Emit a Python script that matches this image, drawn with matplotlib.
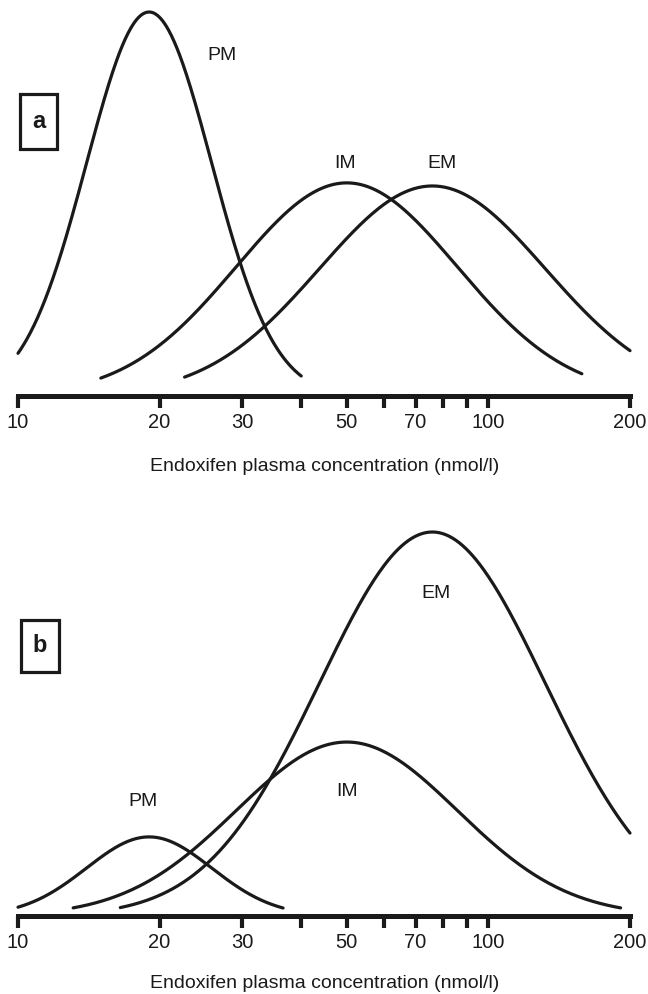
import numpy as np
import matplotlib
matplotlib.use("Agg")
import matplotlib.pyplot as plt
from matplotlib.patches import Rectangle

plt.rcParams['font.family'] = ['Liberation Sans', 'DejaVu Sans']

# ---- data ----
groups = ["PM", "IM", "EM"]
# mode (nmol/l), log10 spread, relative height, drawn range (nmol/l)
modes = [19.0, 50.0, 76.0]
log_sd = [0.133, 0.235, 0.24]
heights_a = [1.00, 0.555, 0.547]
heights_b = [0.206, 0.453, 1.00]
range_a = [(10.0, 40.0), (15.0, 158.0), (22.6, 200.0)]
range_b = [(10.0, 36.6), (13.1, 191.0), (16.5, 200.0)]
tick_values = [10, 20, 30, 40, 50, 60, 70, 80, 90, 100, 200]
tick_labels = ["10", "20", "30", "", "50", "", "70", "", "", "100", "200"]
xlabel = "Endoxifen plasma concentration (nmol/l)"

W, H = 648, 994
fig = plt.figure(figsize=(W / 100, H / 100), dpi=100)


def fx(px):
    return px / W


def fy(py):
    return 1 - py / H


def density(x, mode, sd, h):
    return h * np.exp(-0.5 * ((np.log10(x) - np.log10(mode)) / sd) ** 2)


def make_panel(bottom_px, top_px, heights, ranges, label_pos, xlabel_y):
    ax = fig.add_axes([fx(18), fy(bottom_px), fx(630) - fx(18),
                       fy(top_px) - fy(bottom_px)])
    ax.set_xscale('log')
    ax.set_xlim(10, 200)
    ax.set_ylim(0, (bottom_px - top_px) / 384.0)
    for m, s, h, (lo, hi) in zip(modes, log_sd, heights, ranges):
        x = np.logspace(np.log10(lo), np.log10(hi), 300)
        ax.plot(x, density(x, m, s, h), color='#1a1a1a', lw=2.3,
                solid_capstyle='round', clip_on=False)
    for sp in ['top', 'left', 'right']:
        ax.spines[sp].set_visible(False)
    ax.spines['bottom'].set_linewidth(3.6)
    ax.spines['bottom'].set_color('#1a1a1a')
    ax.set_yticks([])
    ax.xaxis.set_minor_locator(matplotlib.ticker.NullLocator())
    ax.set_xticks(tick_values)
    ax.set_xticklabels(tick_labels)
    ax.tick_params(axis='x', direction='out', length=8.5, width=3,
                   color='#1a1a1a', labelsize=14.5, pad=4,
                   labelcolor='#1a1a1a')
    for name, (xp, yp) in zip(groups, label_pos):
        fig.text(fx(xp), fy(yp), name, fontsize=14, ha='center',
                 va='center', color='#1a1a1a')
    fig.text(fx(325), fy(xlabel_y), xlabel, fontsize=14, ha='center',
             va='center', color='#1a1a1a')
    return ax


make_panel(396, 10, heights_a, range_a,
           [(222, 56), (345, 163), (442, 163)], 466)
make_panel(916, 530, heights_b, range_b,
           [(143, 802), (347, 791), (436, 594)], 984)

for (x0, y0, x1, y1, letter) in [(20, 94, 57, 149, 'a'),
                                 (21, 620, 59, 672, 'b')]:
    fig.patches.append(Rectangle((fx(x0), fy(y1)), fx(x1) - fx(x0),
                                 fy(y0) - fy(y1), transform=fig.transFigure,
                                 fill=False, lw=2.3, ec='#1a1a1a'))
    fig.text(fx((x0 + x1) / 2), fy((y0 + y1) / 2), letter, fontsize=17,
             fontweight='bold', ha='center', va='center', color='#1a1a1a')

fig.savefig('out.png', dpi=100)
